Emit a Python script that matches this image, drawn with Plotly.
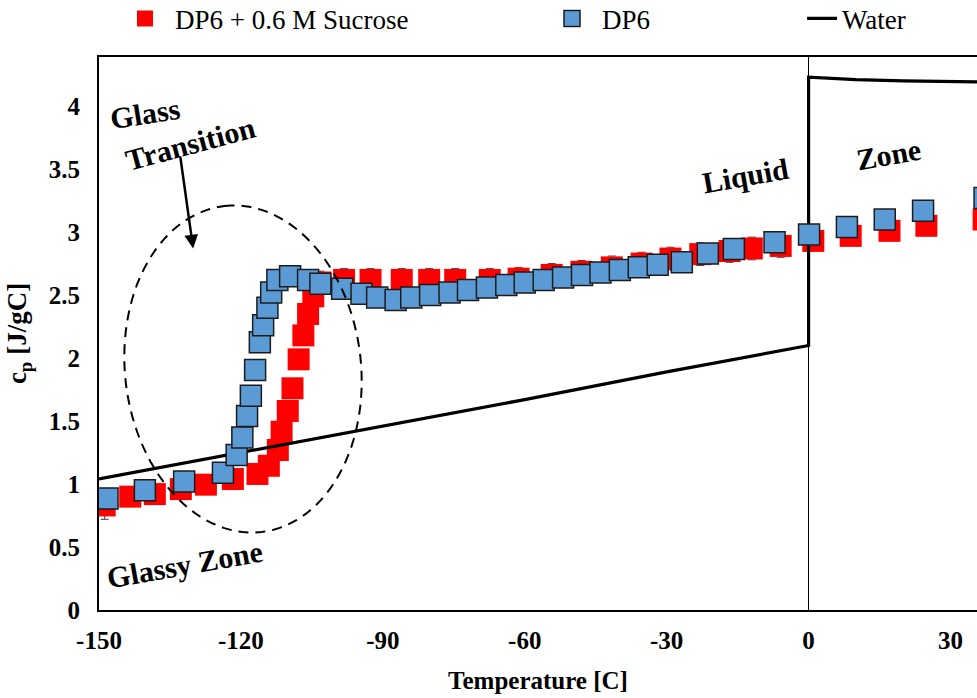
import numpy as np
import plotly.graph_objects as go

# Heat capacity of DP6 + 0.6 M sucrose
temp_sucrose = [-148.8, -143.4, -138.2, -132.7, -127.4, -121.7, -116.5, -114.1, -112.2, -111.4,
                -110.1, -109.1, -107.8, -106.8, -105.8, -104.7, -103.2, -98.2, -92.6, -86.0,
                -80.2, -74.7, -67.4, -61.3, -54.3, -48.0, -41.6, -35.3, -29.2, -22.9,
                -16.7, -12.0, -5.9, 1.0, 8.9, 17.1, 24.9, 37.0]
cp_sucrose = [0.83, 0.90, 0.92, 0.96, 0.995, 1.04, 1.08, 1.145, 1.27, 1.415,
              1.58, 1.76, 1.99, 2.18, 2.35, 2.49, 2.60, 2.62, 2.62, 2.62,
              2.62, 2.62, 2.62, 2.63, 2.66, 2.685, 2.72, 2.75, 2.79, 2.825,
              2.85, 2.87, 2.89, 2.93, 2.97, 3.01, 3.05, 3.10]
err_sucrose = [0.11, 0, 0, 0, 0, 0, 0, 0, 0, 0,
               0, 0, 0, 0, 0, 0, 0.09, 0.09, 0.09, 0.09,
               0.09, 0.09, 0.09, 0.09, 0.09, 0.09, 0.09, 0.09, 0.09, 0.09,
               0.09, 0.09, 0.09, 0, 0, 0, 0, 0]

# Heat capacity of DP6
temp_dp6 = [-148.2, -140.3, -132.0, -123.8, -120.9, -119.7, -118.7, -117.9, -117.0, -116.0,
            -115.3, -114.4, -113.6, -112.3, -109.6, -105.8, -103.2, -98.6, -94.5, -91.2,
            -87.3, -84.0, -80.0, -75.9, -72.0, -68.0, -63.9, -60.0, -56.0, -51.9,
            -47.9, -44.0, -39.9, -35.9, -31.9, -26.8, -21.3, -15.8, -7.2, 0.1,
            8.1, 16.1, 24.2, 37.2]
cp_dp6 = [0.886, 0.95, 1.02, 1.09, 1.23, 1.37, 1.54, 1.70, 1.905, 2.125,
          2.26, 2.40, 2.52, 2.62, 2.65, 2.62, 2.59, 2.55, 2.51, 2.48,
          2.46, 2.48, 2.50, 2.52, 2.54, 2.56, 2.58, 2.60, 2.62, 2.64,
          2.66, 2.68, 2.70, 2.72, 2.74, 2.76, 2.83, 2.865, 2.92, 2.98,
          3.04, 3.10, 3.17, 3.27]

# Heat capacity of water (ice below 0 C, liquid above)
temp_water = [-150, -120, -90, -60, -30, 0, 0, 10, 20, 40]
cp_water = [1.04, 1.25, 1.46, 1.67, 1.89, 2.10, 4.23, 4.21, 4.20, 4.19]

x_ticks = [-150, -120, -90, -60, -30, 0, 30]
y_ticks = [0, 0.5, 1, 1.5, 2, 2.5, 3, 3.5, 4]

SERIF = "Liberation Serif"
W, H = 977, 698
ML, MR, MT, MB = 99, 0, 57, 88
PW, PH = W - ML - MR, H - MT - MB


def px_to_paper(px, py):
    return (px - ML) / PW, (H - MB - py) / PH


fig = go.Figure()

fig.add_trace(go.Scatter(
    x=temp_sucrose, y=cp_sucrose, mode="markers", name="DP6 + 0.6 M Sucrose",
    marker=dict(symbol="square", size=22, color="#ff0000", line=dict(width=0)),
    error_y=dict(type="data", array=err_sucrose, color="#404040", thickness=1, width=4),
    legend="legend",
))
fig.add_trace(go.Scatter(
    x=temp_water, y=cp_water, mode="lines", name="Water",
    line=dict(color="black", width=3.2),
    legend="legend3",
))
fig.add_trace(go.Scatter(
    x=temp_dp6, y=cp_dp6, mode="markers", name="DP6",
    marker=dict(symbol="square", size=21, color="#5b9bd5", line=dict(width=1.5, color="#1c1c1c")),
    legend="legend2",
))

# Dashed ellipse around the glass transition
cx, cy, a, b = 243, 369, 164, 118
u_major = np.array([-37.0, -326.0]) / np.hypot(37, 326)
u_minor = np.array([-u_major[1], u_major[0]])
pts = []
for t in np.linspace(0, 2 * np.pi, 121):
    p = np.array([cx, cy]) + a * np.cos(t) * u_major + b * np.sin(t) * u_minor
    pts.append(px_to_paper(p[0], p[1]))
path = "M" + " L".join(f"{x:.5f},{y:.5f}" for x, y in pts) + " Z"
fig.add_shape(type="path", path=path, xref="paper", yref="paper",
              line=dict(color="black", width=2, dash="10px,7px"))

ann_font = dict(family=SERIF, size=30, color="black", weight="bold")
fig.add_annotation(x=-140.3, y=3.94, text="Glass", showarrow=False, textangle=-9, font=ann_font)
fig.add_annotation(x=-130.6, y=3.70, text="Transition", showarrow=False, textangle=-15, font=ann_font)
fig.add_annotation(x=-131.8, y=0.36, text="Glassy Zone", showarrow=False, textangle=-10, font=ann_font)
fig.add_annotation(x=-13.3, y=3.45, text="Liquid", showarrow=False, textangle=-10, font=ann_font)
fig.add_annotation(x=16.9, y=3.62, text="Zone", showarrow=False, textangle=-10, font=ann_font)
fig.add_annotation(x=-130.1, y=2.87, ax=-13, ay=-93, text="", showarrow=True,
                   arrowhead=2, arrowsize=1.1, arrowwidth=2.5, arrowcolor="black")

leg_common = dict(orientation="h", yanchor="middle", xanchor="left", y=1.069,
                  bgcolor="rgba(0,0,0,0)", borderwidth=0,
                  font=dict(family=SERIF, size=27, color="black"))
fig.update_layout(
    width=W, height=H,
    margin=dict(l=ML, r=MR, t=MT, b=MB, pad=0, autoexpand=False),
    paper_bgcolor="white", plot_bgcolor="white",
    font=dict(family=SERIF, color="black"),
    showlegend=True,
    legend=dict(x=px_to_paper(115, 0)[0], itemwidth=50, **leg_common),
    legend2=dict(x=px_to_paper(542, 0)[0], itemwidth=50, **leg_common),
    legend3=dict(x=px_to_paper(802, 0)[0], itemwidth=30, **leg_common),
    xaxis=dict(
        range=[-150, 35.6], tickvals=x_ticks, ticktext=[str(v) for v in x_ticks],
        showgrid=False, zeroline=True, zerolinecolor="black", zerolinewidth=1,
        showline=True, linecolor="black", linewidth=2, mirror=True, ticks="",
        tickfont=dict(family=SERIF, size=25, color="black", weight="bold"),
        ticklabelstandoff=7,
        title=dict(text="Temperature [C]", standoff=18,
                   font=dict(family=SERIF, size=25, color="black", weight="bold")),
    ),
    yaxis=dict(
        range=[0, 4.39], tickvals=y_ticks, ticktext=[f"{v:g}" for v in y_ticks],
        showgrid=False, zeroline=False,
        showline=True, linecolor="black", linewidth=2, mirror=False, ticks="",
        tickfont=dict(family=SERIF, size=25, color="black", weight="bold"),
        ticklabelstandoff=12,
        title=dict(text="c<sub>p</sub> [J/gC]", standoff=14,
                   font=dict(family=SERIF, size=27, color="black", weight="bold")),
    ),
)

fig.write_html("out.html")
